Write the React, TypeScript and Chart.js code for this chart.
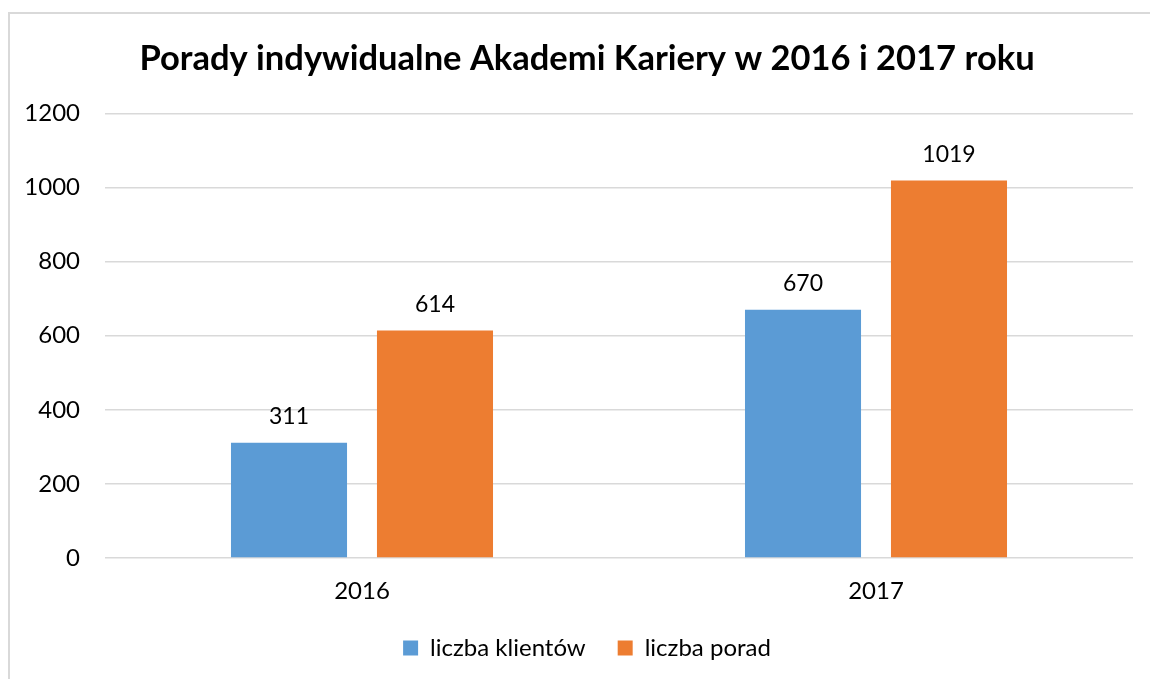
import React, { useEffect, useRef } from "react";
import { Chart, registerables } from "chart.js";

Chart.register(...registerables);

const categories = ["2016", "2017"];
const klienci = [311, 670];
const porady = [614, 1019];
const seriesNames = ["liczba klientów", "liczba porad"];
const titleText = "Porady indywidualne Akademi Kariery w 2016 i 2017 roku";

const FONT = "Lato, 'Open Sans', sans-serif";

const frame = {
  id: "frame",
  beforeDraw(chart: any) {
    const ctx = chart.ctx;
    ctx.save();
    ctx.strokeStyle = "#d9d9d9";
    ctx.lineWidth = 2;
    ctx.beginPath();
    ctx.moveTo(9, chart.height);
    ctx.lineTo(9, 13);
    ctx.lineTo(chart.width, 13);
    ctx.stroke();
    ctx.restore();
  },
};

const valueLabels = {
  id: "valueLabels",
  afterDatasetsDraw(chart: any) {
    const ctx = chart.ctx;
    ctx.save();
    ctx.font = `23px ${FONT}`;
    ctx.fillStyle = "#000";
    ctx.textAlign = "center";
    ctx.textBaseline = "middle";
    chart.data.datasets.forEach((ds: any, i: number) => {
      const meta = chart.getDatasetMeta(i);
      meta.data.forEach((el: any, j: number) => {
        ctx.fillText(String(ds.data[j]), el.x, el.y - 26);
      });
    });
    ctx.restore();
  },
};

export default function App() {
  const ref = useRef<HTMLCanvasElement>(null);
  useEffect(() => {
    const chart = new Chart(ref.current!, {
      type: "bar",
      data: {
        labels: categories,
        datasets: [
          { label: seriesNames[0], data: klienci, backgroundColor: "#5b9bd5" },
          { label: seriesNames[1], data: porady, backgroundColor: "#ed7d31" },
        ],
      },
      options: {
        animation: false,
        responsive: false,
        maintainAspectRatio: false,
        layout: { padding: { left: 41, right: 17, top: 38, bottom: 9 } },
        datasets: { bar: { categoryPercentage: 0.568, barPercentage: 0.795 } },
        plugins: {
          title: {
            display: true,
            text: titleText,
            color: "#000",
            font: { family: FONT, size: 34.5, weight: "bold" },
            padding: { top: 0, bottom: 34 },
          },
          legend: {
            position: "bottom",
            labels: {
              color: "#000",
              font: { family: FONT, size: 24 },
              boxWidth: 15,
              boxHeight: 15,
              padding: 32,
            },
          },
          tooltip: { enabled: false },
        },
        scales: {
          x: {
            grid: { display: false },
            border: { display: false },
            ticks: { color: "#000", font: { family: FONT, size: 24 }, padding: 11 },
            afterFit(scale: any) {
              scale.height = 46;
            },
          },
          y: {
            min: 0,
            max: 1200,
            ticks: {
              stepSize: 200,
              color: "#000",
              font: { family: FONT, size: 24 },
              padding: 25,
              callback: (v: any) => String(v),
            },
            grid: { color: "#d9d9d9", lineWidth: 1.5, drawTicks: false },
            border: { display: false },
            afterFit(scale: any) {
              scale.width = 64;
              // let tick labels extend left of the (narrow) axis box
              scale._computeLabelArea = () => undefined;
            },
          },
        },
      },
      plugins: [frame, valueLabels],
    } as any);
    return () => chart.destroy();
  }, []);
  return (
    <div style={{ position: "absolute", left: 0, top: 0, width: 1150, height: 679, background: "#fff" }}>
      <canvas ref={ref} width={1150} height={679} />
    </div>
  );
}
